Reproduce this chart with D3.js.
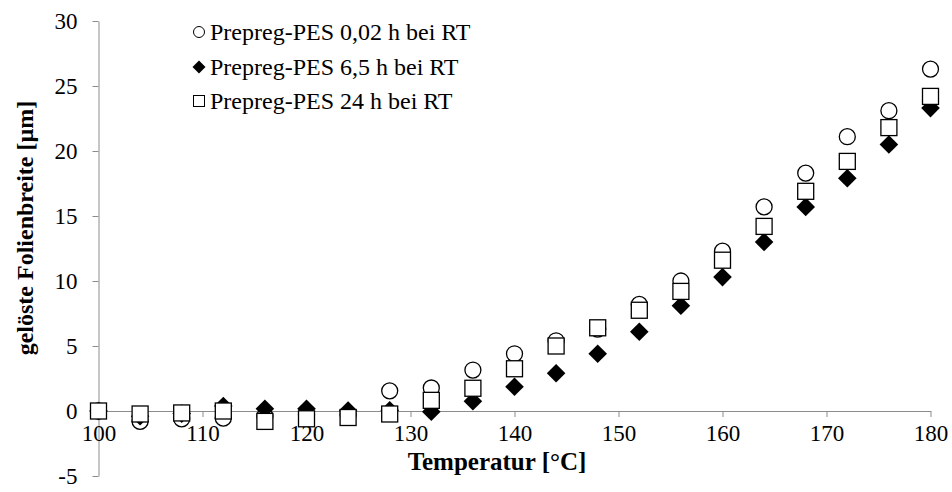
<!DOCTYPE html>
<html>
<head>
<meta charset="utf-8">
<script src="https://cdn.jsdelivr.net/npm/d3@7"></script>
<style>
  html, body { margin: 0; padding: 0; background: #fff; }
  svg { display: block; }
  svg text { font-family: "Liberation Serif", "Times New Roman", serif !important; fill: #000; }
</style>
</head>
<body>
<svg id="chart" width="952" height="492"></svg>
<script>
const temperatures = [100, 104, 108, 112, 116, 120, 124, 128, 132, 136, 140, 144, 148, 152, 156, 160, 164, 168, 172, 176, 180];
const series002h = [0, -0.8, -0.6, -0.55, -0.4, -0.3, -0.3, 1.55, 1.77, 3.15, 4.4, 5.4, 6.3, 8.2, 10.0, 12.3, 15.7, 18.3, 21.1, 23.1, 26.3];
const series65h  = [0, -0.4, -0.2, 0.38, 0.17, 0.17, 0.04, 0.05, -0.05, 0.75, 1.87, 2.9, 4.4, 6.1, 8.1, 10.3, 13.0, 15.7, 17.9, 20.5, 23.3];
const series24h  = [0, -0.23, -0.15, 0, -0.8, -0.6, -0.5, -0.23, 0.82, 1.75, 3.25, 5.0, 6.4, 7.75, 9.2, 11.6, 14.2, 16.9, 19.2, 21.8, 24.2];
const seriesNames = ["Prepreg-PES 0,02 h bei RT", "Prepreg-PES 6,5 h bei RT", "Prepreg-PES 24 h bei RT"];
const xTicks = [100, 110, 120, 130, 140, 150, 160, 170, 180];
const yTicks = [-5, 0, 5, 10, 15, 20, 25, 30];
const xTitle = "Temperatur [°C]";
const yTitle = "gelöste Folienbreite [µm]";

const FONT = "'Liberation Serif', 'Times New Roman', serif";
const svg = d3.select("#chart");
const x = d3.scaleLinear().domain([100, 180]).range([98.5, 930.5]);
const y = d3.scaleLinear().domain([-5, 30]).range([476, 21]);
const axisColor = "#8c8c8c";
const fmt = d => String(d);

function styleAxis(g) {
  g.attr("font-family", FONT).attr("font-size", 23);
  g.select(".domain").attr("stroke", axisColor).attr("stroke-width", 1);
  g.selectAll(".tick line").attr("stroke", axisColor);
  g.selectAll(".tick text")
    .attr("font-family", FONT)
    .attr("font-size", 23)
    .style("font-size", "23px")
    .attr("fill", "#000");
}

// Y axis
const yAxis = svg.append("g")
  .attr("transform", `translate(${x(100)},0)`)
  .call(d3.axisLeft(y).tickValues(yTicks).tickSize(6).tickSizeOuter(0).tickPadding(15).tickFormat(fmt));
styleAxis(yAxis);

// X axis at y = 0
const xAxis = svg.append("g")
  .attr("transform", `translate(0,${y(0)})`)
  .call(d3.axisBottom(x).tickValues(xTicks).tickSize(6).tickSizeOuter(0).tickPadding(8).tickFormat(fmt));
styleAxis(xAxis);

// Axis titles
svg.append("text")
  .attr("x", 497).attr("y", 470)
  .attr("text-anchor", "middle")
  .attr("font-family", FONT)
  .style("font-size", "25px").style("font-weight", "bold")
  .text(xTitle);
svg.append("text")
  .attr("transform", "translate(33,228) rotate(-90)")
  .attr("text-anchor", "middle")
  .attr("font-family", FONT)
  .style("font-size", "24px").style("font-weight", "bold")
  .text(yTitle);

// Markers
const rows = temperatures.map((t, i) => ({ t, a: series002h[i], b: series65h[i], c: series24h[i] }));
function diamondPath(cx, cy, h) {
  return `M${cx},${cy - h}L${cx + h},${cy}L${cx},${cy + h}L${cx - h},${cy}Z`;
}
const marks = svg.append("g");
marks.selectAll("circle.s1").data(rows).join("circle")
  .attr("class", "s1")
  .attr("cx", d => x(d.t)).attr("cy", d => y(d.a)).attr("r", 8)
  .attr("fill", "#fff").attr("stroke", "#000").attr("stroke-width", 1.3);
marks.selectAll("path.s2").data(rows).join("path")
  .attr("class", "s2")
  .attr("d", d => diamondPath(x(d.t), y(d.b), 9.3))
  .attr("fill", "#000");
marks.selectAll("rect.s3").data(rows).join("rect")
  .attr("class", "s3")
  .attr("x", d => x(d.t) - 8).attr("y", d => y(d.c) - 8)
  .attr("width", 16).attr("height", 16)
  .attr("fill", "#fff").attr("stroke", "#000").attr("stroke-width", 1.3);

// Legend
const legend = svg.append("g");
const legY = [32, 67, 101];
const lx = 199;
legend.append("circle").attr("cx", lx).attr("cy", legY[0]).attr("r", 5.5)
  .attr("fill", "#fff").attr("stroke", "#000").attr("stroke-width", 1);
legend.append("path").attr("d", diamondPath(lx, legY[1], 6.5)).attr("fill", "#000");
legend.append("rect").attr("x", lx - 5.5).attr("y", legY[2] - 5.5).attr("width", 11).attr("height", 11)
  .attr("fill", "#fff").attr("stroke", "#000").attr("stroke-width", 1);
seriesNames.forEach((name, i) => {
  legend.append("text")
    .attr("x", 210).attr("y", legY[i] + 8)
    .attr("font-family", FONT)
    .style("font-size", "24px")
    .text(name);
});
</script>
</body>
</html>
